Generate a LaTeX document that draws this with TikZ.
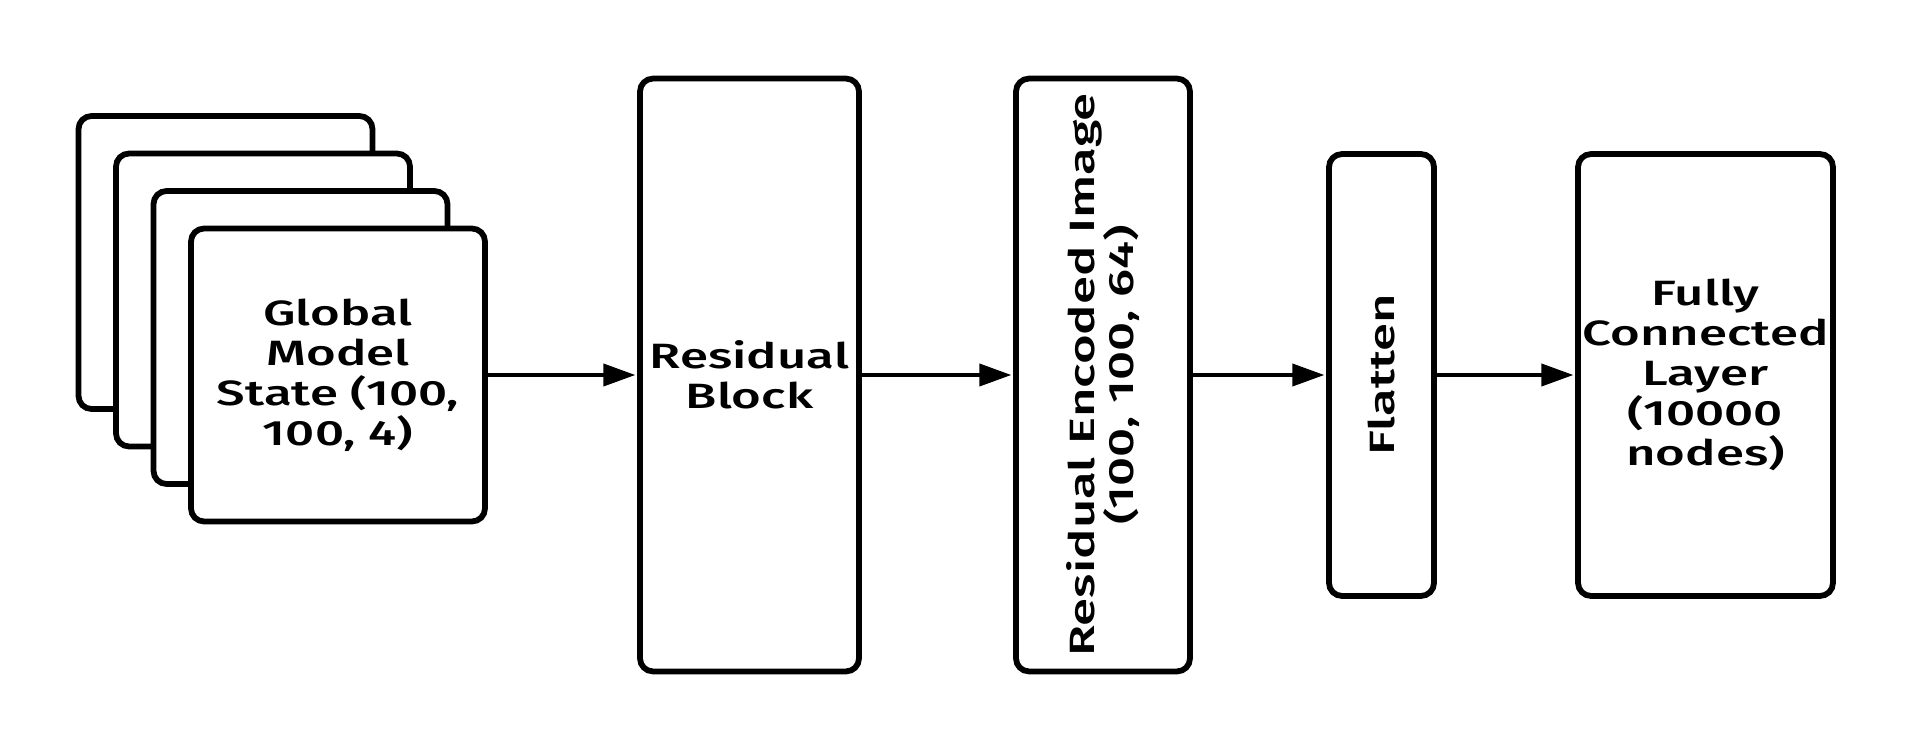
\documentclass[tikz,border=0pt]{standalone}
\usepackage{fontspec}
\setmainfont{Fira Sans}[UprightFont={* Medium}, FakeStretch=1.45]
\usepackage{tikz}
\usetikzlibrary{arrows.meta,positioning}

\begin{document}
\begin{tikzpicture}[
  x=0.02cm, y=-0.02cm,
  font=\fontsize{20}{22.7}\selectfont,
  >={Triangle[length=0.64cm, width=0.44cm]},
  blk/.style={draw, line width=3.3pt, rounded corners=0.26cm, fill=white,
              align=center, inner sep=2pt},
  layer/.style={blk, minimum width=5.88cm, minimum height=5.86cm},
  flow/.style={->, line width=2.2pt, shorten >=1pt},
  vtxt/.style={rotate=90, align=center, inner sep=0pt},
]
\useasboundingbox (0,0) rectangle (1913,750);

% ---- input state: stacked layers -------------------------------------------
\foreach \i in {3,2,1}{
  \node[layer] (st\i) at (338-37.5*\i,375-37.5*\i) {};
}
\node[layer] (state) at (338,375) {Global\\Model\\State (100,\\100, 4)};

% ---- blocks ----------------------------------------------------------------
\node[blk, minimum width=4.38cm, minimum height=11.86cm] (res) at (749.5,375) {Residual\\Block};
\node[blk, minimum width=3.48cm, minimum height=11.86cm] (enc) at (1103,375) {};
\node[vtxt] (enctxt) at (enc.center) {Residual Encoded Image\\(100, 100, 64)};
\node[blk, minimum width=2.1cm, minimum height=8.84cm] (flat) at (1381.5,375) {};
\node[vtxt] (flattxt) at (flat.center) {Flatten};
\node[blk, minimum width=5.1cm, minimum height=8.84cm] (fc) at (1705.5,375)
  {Fully\\Connected\\Layer\\(10000\\nodes)};

% ---- arrows ----------------------------------------------------------------
\draw[flow] (state.east) -- (res.west);
\draw[flow] (res.east) -- (enc.west);
\draw[flow] (enc.east) -- (flat.west);
\draw[flow] (flat.east) -- (fc.west);
\end{tikzpicture}
\end{document}
